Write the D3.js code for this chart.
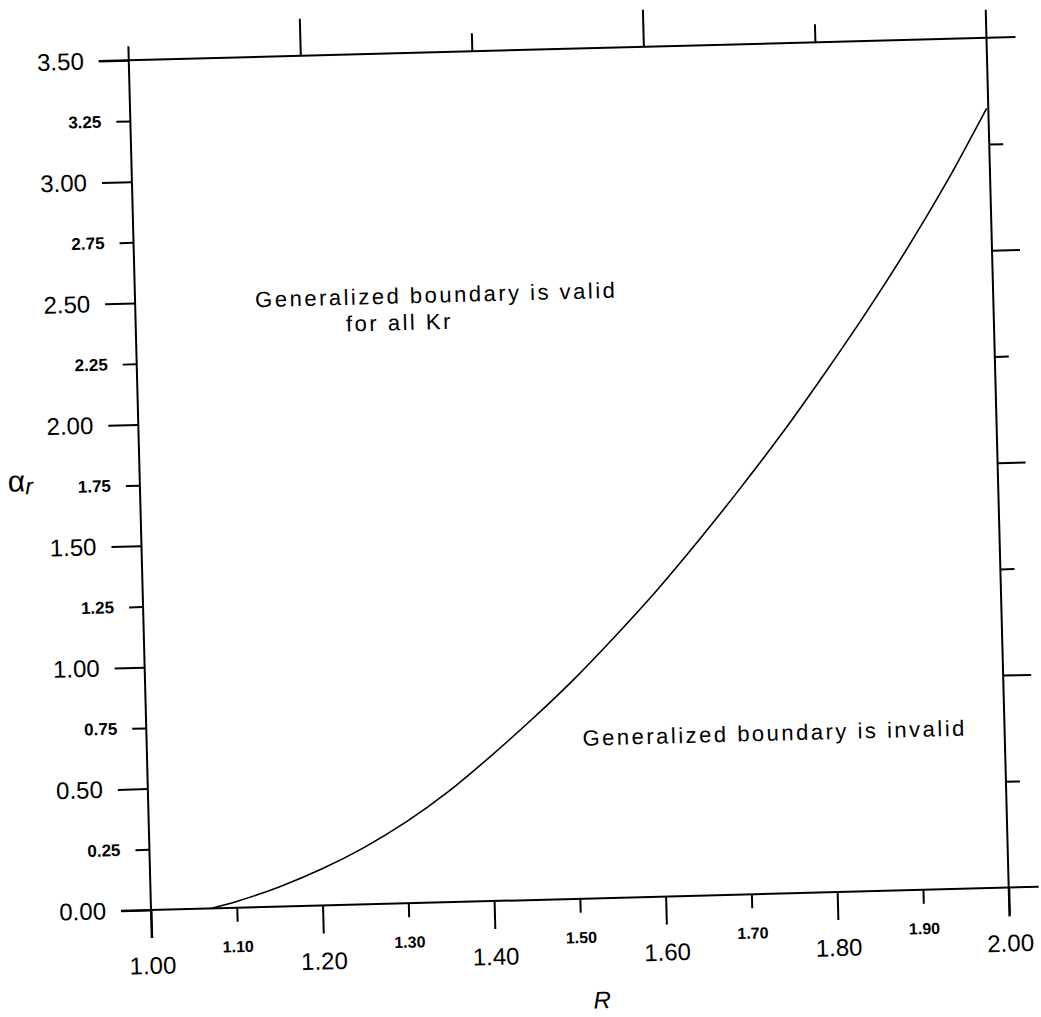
<!DOCTYPE html>
<html>
<head>
<meta charset="utf-8">
<script src="https://cdn.jsdelivr.net/npm/d3@7"></script>
<style>
body { margin: 0; background: #fff; }
text { font-family: "Liberation Sans", Arial, sans-serif; fill: #000; }
</style>
</head>
<body>
<svg id="chart"></svg>
<script>
// boundary curve
var rVals     = [1.07, 1.10, 1.15, 1.20, 1.25, 1.30, 1.35, 1.40, 1.45, 1.50, 1.55, 1.60, 1.65, 1.70, 1.75, 1.80, 1.85, 1.90, 1.95, 1.998];
var alphaVals = [0.000, 0.026, 0.081, 0.150, 0.234, 0.335, 0.455, 0.595, 0.745, 0.905, 1.080, 1.265, 1.465, 1.675, 1.895, 2.130, 2.375, 2.635, 2.915, 3.210];

// tick values
var yMajor = [0, 0.5, 1.0, 1.5, 2.0, 2.5, 3.0, 3.5];
var yMinor = [0.25, 0.75, 1.25, 1.75, 2.25, 2.75, 3.25];
var xMajor = [1.0, 1.2, 1.4, 1.6, 1.8, 2.0];
var xMinor = [1.1, 1.3, 1.5, 1.7, 1.9];
var topLong = [1.2, 1.6];
var topShort = [1.4, 1.8];
var rightLong = [1, 2, 3];
var rightShort = [0.5, 1.5, 2.5, 3.5];

// annotations (R, alpha at baseline start)
var noteText = ["Generalized boundary is valid", "for all Kr", "Generalized boundary is invalid"];
var noteR = [1.14, 1.245, 1.508];
var noteA = [2.47, 2.36, 0.63];

// the scanned page is a little tilted
var origin = {x: 151, y: 910},
    tilt = -1.5,
    width = 858,
    height = 850;

var svg = d3.select("#chart")
  .attr("width", 1041)
  .attr("height", 1017);

var g = svg.append("g")
  .attr("transform", `translate(${origin.x},${origin.y}) rotate(${tilt}) translate(0,${-height})`);

var x = d3.scaleLinear().domain([1, 2]).range([0, width]);
var y = d3.scaleLinear().domain([0, 3.5]).range([height, 0]);
var yRight = d3.scaleLinear().domain([0, 4]).range([height, 0]);

var fmt = d3.format(".2f");

function cleanAxis(sel, size, weight) {
  sel.attr("font-size", null).attr("font-family", null);
  sel.select(".domain").remove();
  sel.selectAll("line").attr("stroke", "#000").attr("stroke-width", 2);
  sel.selectAll("text").style("font-size", size + "px").style("font-weight", weight);
}

// frame lines, running past the corners like the original
var frame = [
  [x(1), y(3.5) - 14, x(1), y(0) + 28],
  [x(1) - 30, y(0), x(2) + 30, y(0)],
  [x(1) - 30, y(3.5), x(2) + 29, y(3.5)],
  [x(2), y(3.5) - 28, x(2), y(0) + 29]
];
g.selectAll("line.frame")
  .data(frame)
  .join("line")
  .attr("class", "frame")
  .attr("x1", d => d[0]).attr("y1", d => d[1])
  .attr("x2", d => d[2]).attr("y2", d => d[3])
  .attr("stroke", "#000")
  .attr("stroke-width", 2);

// Y axis left
g.append("g")
  .call(d3.axisLeft(y).tickValues(yMajor).tickSize(30).tickPadding(15).tickFormat(fmt))
  .call(cleanAxis, 24, "normal");
g.append("g")
  .call(d3.axisLeft(y).tickValues(yMinor).tickSize(14).tickPadding(15).tickFormat(fmt))
  .call(cleanAxis, 17, "bold");

// X axis bottom
g.append("g")
  .attr("transform", `translate(0,${height})`)
  .call(d3.axisBottom(x).tickValues(xMajor).tickSize(28).tickPadding(19).tickFormat(fmt))
  .call(cleanAxis, 24, "normal");
g.append("g")
  .attr("transform", `translate(0,${height})`)
  .call(d3.axisBottom(x).tickValues(xMinor).tickSize(14).tickPadding(19).tickFormat(fmt))
  .call(cleanAxis, 16, "bold");

// top ticks
g.append("g")
  .call(d3.axisTop(x).tickValues(topLong).tickSize(37).tickFormat(""))
  .call(cleanAxis, 10, "normal");
g.append("g")
  .call(d3.axisTop(x).tickValues(topShort).tickSize(18).tickFormat(""))
  .call(cleanAxis, 10, "normal");

// right ticks
g.append("g")
  .attr("transform", `translate(${width},0)`)
  .call(d3.axisRight(yRight).tickValues(rightLong).tickSize(28).tickFormat(""))
  .call(cleanAxis, 10, "normal");
g.append("g")
  .attr("transform", `translate(${width},0)`)
  .call(d3.axisRight(yRight).tickValues(rightShort).tickSize(14).tickFormat(""))
  .call(cleanAxis, 10, "normal");

// boundary curve
var pts = rVals.map((r, i) => ({r: r, a: alphaVals[i]}));
g.append("path")
  .datum(pts)
  .attr("fill", "none")
  .attr("stroke", "#000")
  .attr("stroke-width", 1.6)
  .attr("d", d3.line().x(d => x(d.r)).y(d => y(d.a)).curve(d3.curveMonotoneX));

// annotations
g.selectAll("text.note")
  .data(noteText)
  .join("text")
  .attr("class", "note")
  .attr("x", (d, i) => x(noteR[i]))
  .attr("y", (d, i) => y(noteA[i]))
  .style("font-size", "22px")
  .style("letter-spacing", "2.5px")
  .text(d => d);

// axis labels
var yLab = g.append("text")
  .attr("x", x(1) - 132)
  .attr("y", y(1.77) + 8);
yLab.append("tspan").style("font-size", "30px").text("α");
yLab.append("tspan").style("font-size", "23px").style("font-style", "italic").attr("dy", 3).text("r");

g.append("text")
  .attr("x", x(1.523))
  .attr("y", height + 110)
  .attr("text-anchor", "middle")
  .style("font-size", "24px")
  .style("font-style", "italic")
  .text("R");
</script>
</body>
</html>
